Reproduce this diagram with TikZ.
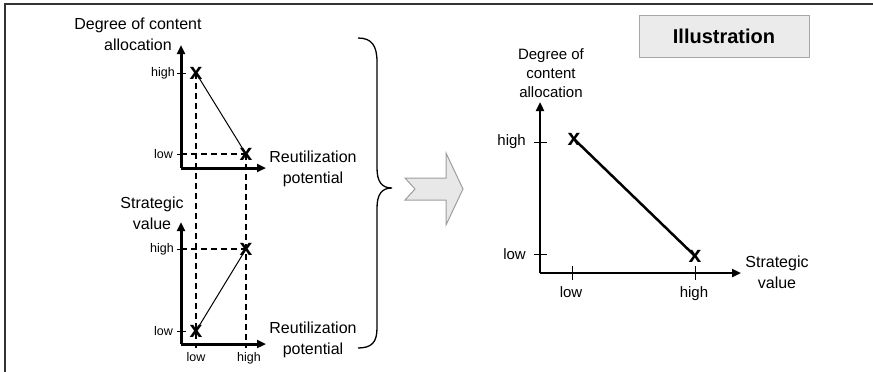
\documentclass[tikz,border=0pt]{standalone}
\usepackage{fontspec}
\setmainfont{Liberation Sans}
\usetikzlibrary{arrows.meta}
\definecolor{framegray}{HTML}{333333}
\definecolor{boxfill}{HTML}{EBEBEB}
\definecolor{boxedge}{HTML}{A6A6A6}
\definecolor{arrowfill}{HTML}{E8E8E8}
\definecolor{arrowedge}{HTML}{9E9E9E}
\begin{document}
\begin{tikzpicture}[x=1pt,y=-1pt,
  axisthick/.style={line width=3pt,-{Triangle[length=9pt,width=8pt]}},
  axismid/.style={line width=2.5pt,-{Triangle[length=9pt,width=8pt]}},
  tick/.style={line width=1pt},
  guide/.style={line width=2.4pt,dash pattern=on 6pt off 4pt},
  xmark/.style={font=\fontsize{23}{23}\selectfont\bfseries,inner sep=0pt},
  biglbl/.style={font=\fontsize{16}{21}\selectfont,align=center,inner sep=0pt},
  midlbl/.style={font=\fontsize{15}{19}\selectfont,align=center,inner sep=0pt},
  smalllbl/.style={font=\fontsize{12.5}{14}\selectfont,inner sep=0pt},
]
\useasboundingbox (0,0) rectangle (873,372);

% outer frame (top and left edges)
\draw[framegray,line width=2pt] (5,372) -- (5,4) -- (873,4);

% ---------- upper small chart ----------
\coordinate (o1) at (181,168);
\coordinate (y1) at (181,45);
\coordinate (x1) at (266,168);
\node[xmark] (h1) at (196,73) {x};
\node[xmark] (l1) at (246,154) {x};
\coordinate (h1b) at (196,348);
\coordinate (l1b) at (246,348);
\coordinate (l1a) at (181,154);

\draw[guide] (h1.center) -- (h1b);
\draw[guide] (l1.center) -- (l1b);
\draw[guide] (l1a) -- (l1.center);
\draw[line width=1pt] (h1.center) -- (l1.center);
\draw[tick] (177,73) -- (186,73);
\draw[tick] (177,154) -- (186,154);
\draw[axisthick] (o1) -- (y1);
\draw[axisthick] (o1) -- (x1);

\node[biglbl] (t1) at (138,34.5) {Degree of content\\allocation};
\node[smalllbl,anchor=east] (t1h) at (175,73) {high};
\node[smalllbl,anchor=east] (t1l) at (173,154) {low};
\node[biglbl] (t1r) at (313,168.5) {Reutilization\\potential};

% ---------- lower small chart ----------
\coordinate (o2) at (181,344);
\coordinate (y2) at (181,222);
\coordinate (x2) at (266,344);
\node[xmark] (h2) at (246,249) {x};
\node[xmark] (l2) at (196,331) {x};
\coordinate (h2a) at (181,249);

\draw[guide] (h2a) -- (h2.center);
\draw[line width=1pt] (l2.center) -- (h2.center);
\draw[tick] (177,249) -- (186,249);
\draw[tick] (177,331) -- (186,331);
\draw[axisthick] (o2) -- (y2);
\draw[axisthick] (o2) -- (x2);

\node[biglbl] (t2) at (152,213) {Strategic\\value};
\node[smalllbl,anchor=east] (t2h) at (174,249) {high};
\node[smalllbl,anchor=east] (t2l) at (173,331) {low};
\node[smalllbl,anchor=base] (t2xl) at (196,361) {low};
\node[smalllbl,anchor=base] (t2xh) at (249,361) {high};
\node[biglbl] (t2r) at (313,340) {Reutilization\\potential};

% ---------- curly brace ----------
\draw[line width=1.3pt]
  (358,38) .. controls (372,38) and (377,46) .. (377,62)
  -- (377,168) .. controls (377,182) and (382,188) .. (392,188)
  .. controls (382,188) and (377,194) .. (377,208)
  -- (377,328) .. controls (377,342) and (372,348) .. (358,348);

% ---------- block arrow ----------
\draw[arrowedge,fill=arrowfill,line width=1pt,line join=miter]
  (405,178) -- (446,178) -- (446,153) -- (463,189) -- (446,225)
  -- (446,200) -- (405,200) -- (415,189) -- cycle;

% ---------- title box ----------
\node[draw=boxedge,fill=boxfill,line width=1pt,minimum width=170pt,minimum height=42pt,
      font=\fontsize{20}{20}\selectfont\bfseries,inner sep=0pt] (title) at (724,36) {Illustration};

% ---------- large chart ----------
\coordinate (o3) at (540,273);
\coordinate (y3) at (540,102);
\coordinate (x3) at (741,273);
\node[xmark] (h3) at (574,139) {x};
\node[xmark] (l3) at (695,256) {x};

\draw[line width=2.5pt] (h3.center) -- (l3.center);
\draw[tick] (534,142) -- (547,142);
\draw[tick] (534,254) -- (547,254);
\draw[tick] (572,266) -- (572,280);
\draw[tick] (695,266) -- (695,280);
\draw[axismid] (o3) -- (y3);
\draw[axismid] (o3) -- (x3);

\node[midlbl] (t3) at (551,73) {Degree of\\content\\allocation};
\node[midlbl,anchor=east] (t3h) at (526,142) {high};
\node[midlbl,anchor=east] (t3l) at (526,254) {low};
\node[midlbl,anchor=base] (t3xl) at (571,297) {low};
\node[midlbl,anchor=base] (t3xh) at (694,297) {high};
\node[biglbl] (t3r) at (777,272.5) {Strategic\\value};
\end{tikzpicture}
\end{document}
